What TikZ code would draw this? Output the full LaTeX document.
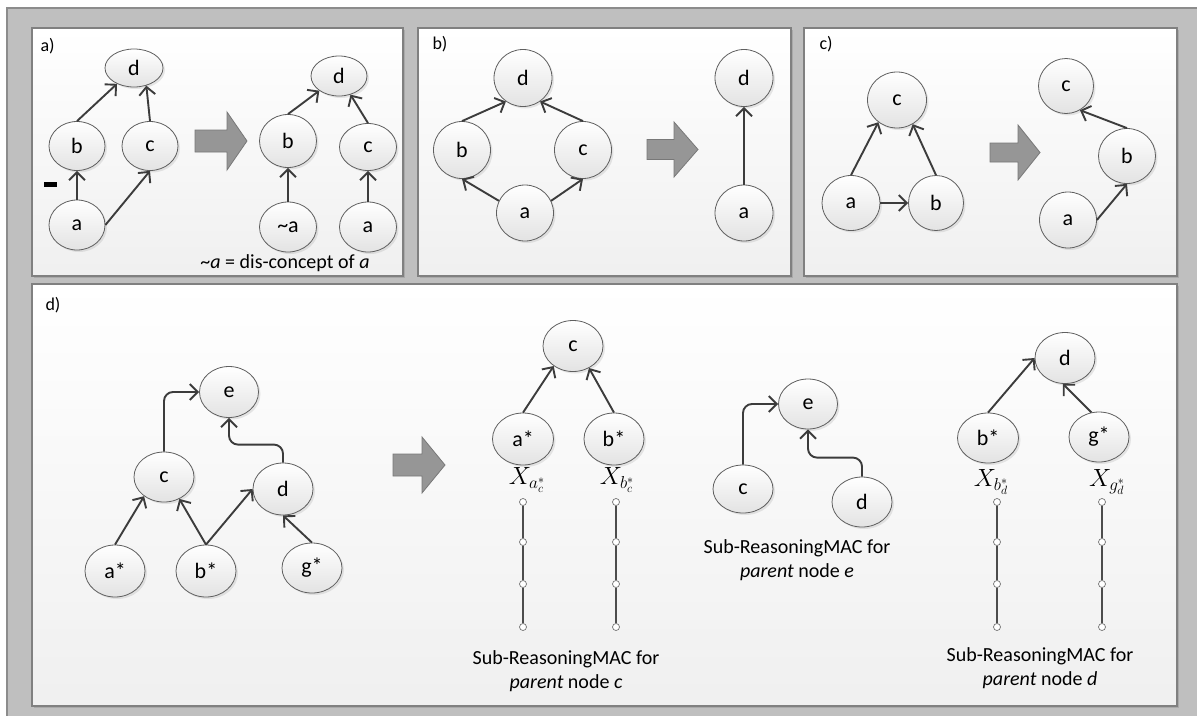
\documentclass[tikz,border=0pt]{standalone}
\usepackage{fontspec}
\setmainfont{Carlito}
\usetikzlibrary{arrows.meta,shadows,shapes.geometric}
\definecolor{outerbg}{RGB}{191,191,191}
\definecolor{outerln}{RGB}{140,140,140}
\definecolor{panelln}{RGB}{128,128,128}
\definecolor{nodeln}{RGB}{95,95,95}
\definecolor{edgec}{RGB}{60,60,60}
\definecolor{bigfill}{RGB}{150,150,150}
\definecolor{bigln}{RGB}{120,120,120}
\tikzset{
  every node/.style={font=\fontsize{22}{24}\selectfont},
  panelbox/.style={draw=panelln, line width=1.2pt, top color=white, bottom color=black!6,
    drop shadow={shadow xshift=2pt, shadow yshift=-2pt, opacity=0.35}},
  gn/.style 2 args={ellipse, draw=nodeln, line width=0.8pt, top color=white, bottom color=black!11,
    minimum width=#1pt, minimum height=#2pt, inner sep=0pt,
    drop shadow={shadow xshift=2pt, shadow yshift=-2pt, opacity=0.18}},
  arr/.style={draw=edgec, line width=1.9pt, -{Straight Barb[length=8pt,width=16pt,line width=1.9pt]}},
  rarr/.style={arr, rounded corners=9pt},
  bigarr/.style={fill=bigfill, draw=bigln, line width=0.8pt},
  chn/.style={circle, draw=black!55, fill=white, line width=0.7pt, minimum size=7pt, inner sep=0pt},
  chl/.style={draw=black!70, line width=2pt},
  captxt/.style={align=center, font=\fontsize{20}{24.5}\selectfont},
  plabel/.style={anchor=west, font=\fontsize{18}{20}\selectfont},
  xlab/.style={font=\fontsize{25}{27}\selectfont}
}
\begin{document}
\begin{tikzpicture}[x=1pt, y=-1pt]
\useasboundingbox (0,0) rectangle (1197,715);
% outer frame
\draw[fill=outerbg, draw=outerln, line width=1.5pt] (7,8) rectangle (1210,730);
% panels
\path[panelbox] (32,28) rectangle (403,276);
\path[panelbox] (418,28) rectangle (791,276);
\path[panelbox] (804,28) rectangle (1177,276);
\path[panelbox] (32,284) rectangle (1177,706);
% labels
\node[plabel] (la) at (37,46) {a)};
\node[plabel] (lb) at (429,44) {b)};
\node[plabel] (lc) at (816,44) {c)};
\node[plabel] (ld) at (42,305) {d)};

% ---------- panel a ----------
\node[gn={58}{38}] (ad1) at (134,68) {d};
\node[gn={56}{49}] (ab1) at (77,146) {b};
\node[gn={56}{49}] (ac1) at (150,146) {c};
\node[gn={56}{50}] (aa1) at (77,225) {a};
\fill (44,182) rectangle (57,187);
\draw[arr] (ab1.north) -- (ad1);
\draw[arr] (ac1.north) -- (ad1.-55);
\draw[arr] (aa1.north) -- (ab1.south);
\draw[arr] (aa1.east) -- (ac1.south);
\draw[bigarr] (195,130) -- (227,130) -- (227,112) -- (247,141) -- (227,170) -- (227,152) -- (195,152) -- cycle;
\node[gn={56}{40}] (ad2) at (339,76) {d};
\node[gn={57}{53}] (ab2) at (288,141) {b};
\node[gn={57}{47}] (ac2) at (368,147) {c};
\node[gn={57}{50}] (ana2) at (288,227) {\textasciitilde a};
\node[gn={57}{50}] (aa2) at (368,227) {a};
\draw[arr] (ab2.north) -- (ad2);
\draw[arr] (ac2.north) -- (ad2);
\draw[arr] (ana2.north) -- (ab2.south);
\draw[arr] (aa2.north) -- (ac2.south);
\node[font=\fontsize{20}{22}\selectfont] (acap) at (285,263) {\textasciitilde\textit{a} = dis-concept of \textit{a}};

% ---------- panel b ----------
\node[gn={58}{57}] (bd1) at (523,78) {d};
\node[gn={57}{57}] (bb1) at (462,150) {b};
\node[gn={57}{57}] (bc1) at (583,150) {c};
\node[gn={57}{56}] (ba1) at (525,213) {a};
\draw[arr] (bb1.north) -- (bd1.234);
\draw[arr] (bc1.north) -- (bd1.306);
\draw[arr] (ba1.155) -- (bb1.south);
\draw[arr] (ba1.25) -- (bc1.south);
\draw[bigarr] (647,139.5) -- (674,139.5) -- (674,122) -- (698,149.5) -- (674,177) -- (674,159.5) -- (647,159.5) -- cycle;
\node[gn={58}{57}] (bd2) at (744,78) {d};
\node[gn={58}{56}] (ba2) at (744,213) {a};
\draw[arr] (ba2.north) -- (bd2.south);

% ---------- panel c ----------
\node[gn={59}{56}] (cc1) at (897,100) {c};
\node[gn={58}{55}] (ca1) at (851,203) {a};
\node[gn={55}{55}] (cb1) at (936,203) {b};
\draw[arr] (ca1.north) -- (cc1.230);
\draw[arr] (cb1.north) -- (cc1.303);
\draw[arr] (ca1.east) -- (cb1.west);
\draw[bigarr] (990,143) -- (1018,143) -- (1018,125) -- (1040,152.5) -- (1018,180) -- (1018,162) -- (990,162) -- cycle;
\node[gn={55}{55}] (cc2) at (1066,86) {c};
\node[gn={57}{55}] (cb2) at (1127,156) {b};
\node[gn={57}{56}] (ca2) at (1068,220) {a};
\draw[arr] (cb2.north) -- (cc2.300);
\draw[arr] (ca2.east) -- (cb2.south);

% ---------- panel d ----------
\node[gn={59}{51}] (de1) at (229,392) {e};
\node[gn={60}{50}] (dc1) at (164,477) {c};
\node[gn={60}{52}] (dd1) at (283,489) {d};
\node[gn={60}{52}] (das1) at (115,571) {a*};
\node[gn={60}{52}] (dbs1) at (206,571) {b*};
\node[gn={60}{50}] (dgs1) at (312,568) {g*};
\draw[rarr] (dc1.north) |- (de1.west);
\draw[rarr] (dd1.north) -- ++(0,-18) -| (de1.south);
\draw[arr] (das1.north) -- (dc1.224);
\draw[arr] (dbs1.north) -- (dc1.305);
\draw[arr] (dbs1.north) -- (dd1.west);
\draw[arr] (dgs1.north) -- (dd1.south);
\draw[bigarr] (393,454) -- (422,454) -- (422,437) -- (445,465) -- (422,493) -- (422,476) -- (393,476) -- cycle;

% sub c
\node[gn={60}{51}] (sc) at (573,346) {c};
\node[gn={61}{52}] (sas) at (523,439) {a*};
\node[gn={60}{52}] (sbs) at (614,439) {b*};
\draw[arr] (sas.north) -- (sc.226);
\draw[arr] (sbs.north) -- (sc.306);
\node[xlab] (xa) at (527,480) {$X_{a^*_c}$};
\node[xlab] (xb) at (617,480) {$X_{b^*_c}$};
\node[chn] (pa1) at (523,502) {};
\node[chn] (pa2) at (523,542) {};
\node[chn] (pa3) at (523,584) {};
\node[chn] (pa4) at (523,627) {};
\node[chn] (pb1) at (616,502) {};
\node[chn] (pb2) at (616,542) {};
\node[chn] (pb3) at (616,584) {};
\node[chn] (pb4) at (616,627) {};
\draw[chl] (pa1) -- (pa2) -- (pa3) -- (pa4);
\draw[chl] (pb1) -- (pb2) -- (pb3) -- (pb4);
\node[captxt] (capc) at (566,671) {Sub-ReasoningMAC for\\\textit{parent} node \textit{c}};

% sub e
\node[gn={60}{48}] (ec) at (743,489) {c};
\node[gn={59}{50}] (ee) at (808,404) {e};
\node[gn={60}{50}] (ed) at (862,502) {d};
\draw[rarr] (ec.north) |- (ee.west);
\draw[rarr] (ed.north) -- ++(0,-19) -| (ee.south);
\node[captxt] (cape) at (797,560) {Sub-ReasoningMAC for\\\textit{parent} node \textit{e}};

% sub d
\node[gn={60}{51}] (rd) at (1065,358) {d};
\node[gn={61}{50}] (rbs) at (988,438) {b*};
\node[gn={60}{50}] (rgs) at (1099,437) {g*};
\draw[arr] (rbs.north) -- (rd.west);
\draw[arr] (rgs.107) -- (rd.265);
\node[xlab] (xbd) at (991,482) {$X_{b^*_d}$};
\node[xlab] (xgd) at (1107,482) {$X_{g^*_d}$};
\node[chn] (qa1) at (997,502) {};
\node[chn] (qa2) at (997,542) {};
\node[chn] (qa3) at (997,584) {};
\node[chn] (qa4) at (997,627) {};
\node[chn] (qb1) at (1102,502) {};
\node[chn] (qb2) at (1102,542) {};
\node[chn] (qb3) at (1102,584) {};
\node[chn] (qb4) at (1102,627) {};
\draw[chl] (qa1) -- (qa2) -- (qa3) -- (qa4);
\draw[chl] (qb1) -- (qb2) -- (qb3) -- (qb4);
\node[captxt] (capd) at (1040,668) {Sub-ReasoningMAC for\\\textit{parent} node \textit{d}};
\end{tikzpicture}
\end{document}
